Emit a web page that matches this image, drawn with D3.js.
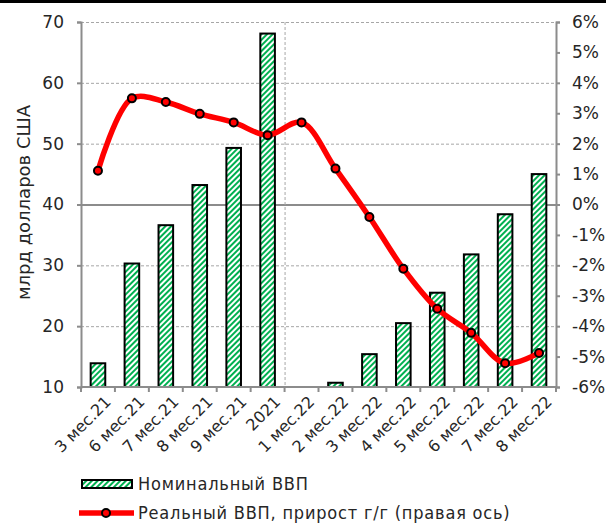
<!DOCTYPE html>
<html>
<head>
<meta charset="utf-8">
<script src="https://cdn.jsdelivr.net/npm/d3@7"></script>
<style>
    body { margin: 0; background: #fff; }
    svg { display: block; font-family: "DejaVu Sans", sans-serif; }
</style>
</head>
<body>
<div id="chart"></div>
<script>
// данные
const categories = ["3 мес.21", "6 мес.21", "7 мес.21", "8 мес.21", "9 мес.21", "2021",
    "1 мес.22", "2 мес.22", "3 мес.22", "4 мес.22", "5 мес.22", "6 мес.22", "7 мес.22", "8 мес.22"];
const nominalGdp = [13.9, 30.3, 36.6, 43.2, 49.3, 68.1, null, 10.7, 15.4, 20.5, 25.5, 31.8, 38.4, 45.0];
const realGrowth = [1.11, 3.49, 3.37, 2.98, 2.70, 2.28, 2.70, 1.18, -0.41, -2.11, -3.43, -4.22, -5.22, -4.88];
const leftTicks = [10, 20, 30, 40, 50, 60, 70];
const rightTicks = [-6, -5, -4, -3, -2, -1, 0, 1, 2, 3, 4, 5, 6];
const legendLabels = ["Номинальный ВВП", "Реальный ВВП, прирост г/г (правая  ось)"];

const width = 606;
const height = 524;
const marginLeft = 81;
const marginRight = 50;
const marginTop = 22;
const marginBottom = 137;

const axisColor = "#8c8c8c";
const green = "#00b050";

const svg = d3.select("#chart").append("svg")
    .attr("width", width)
    .attr("height", height)
    .attr("viewBox", [0, 0, width, height]);

const defs = svg.append("defs");
const pattern = defs.append("pattern")
    .attr("id", "stripes")
    .attr("patternUnits", "userSpaceOnUse")
    .attr("width", 4)
    .attr("height", 4)
    .attr("patternTransform", "rotate(45)");
pattern.append("rect").attr("width", 4).attr("height", 4).attr("fill", "#fff");
pattern.append("rect").attr("width", 2).attr("height", 4).attr("fill", green);

// рамка сверху
svg.append("rect")
    .attr("x", 0).attr("y", 0)
    .attr("width", width).attr("height", 3)
    .attr("fill", "#000");

const x = d3.scaleBand()
    .domain(categories)
    .range([marginLeft, width - marginRight])
    .paddingInner(0.57)
    .paddingOuter(0.285);

const xOuter = d3.scaleBand()
    .domain(categories)
    .range([marginLeft, width - marginRight]);

const y = d3.scaleLinear()
    .domain([10, 70])
    .range([height - marginBottom, marginTop]);

const y2 = d3.scaleLinear()
    .domain([-6, 6])
    .range([height - marginBottom, marginTop]);

// сетка
svg.append("g")
    .selectAll("line")
    .data(leftTicks.filter(d => d !== 10))
    .join("line")
    .attr("x1", marginLeft)
    .attr("x2", width - marginRight)
    .attr("y1", d => y(d) + 0.5)
    .attr("y2", d => y(d) + 0.5)
    .attr("stroke", d => d === 40 ? axisColor : "#a6a6a6")
    .attr("stroke-width", d => d === 40 ? 2 : 1)
    .attr("stroke-dasharray", d => d === 40 ? null : "3,2");

// разделитель 2021 / 2022
const sepX = xOuter("1 мес.22");
svg.append("line")
    .attr("x1", sepX + 0.5).attr("x2", sepX + 0.5)
    .attr("y1", marginTop).attr("y2", height - marginBottom)
    .attr("stroke", "#a6a6a6")
    .attr("stroke-dasharray", "3,2");

// столбцы
svg.append("g")
    .selectAll("rect")
    .data(categories.map((c, i) => ({ c, v: nominalGdp[i] })).filter(d => d.v !== null))
    .join("rect")
    .attr("x", d => x(d.c))
    .attr("y", d => y(d.v))
    .attr("width", x.bandwidth())
    .attr("height", d => y(10) - y(d.v))
    .attr("fill", "url(#stripes)")
    .attr("stroke", "#000")
    .attr("stroke-width", 2);

// оси
svg.append("g")
    .attr("transform", `translate(${marginLeft},0)`)
    .call(d3.axisLeft(y).tickValues(leftTicks).tickSize(4).tickPadding(13))
    .call(g => g.select(".domain").attr("stroke", axisColor).attr("stroke-width", 2))
    .call(g => g.selectAll(".tick line").attr("stroke", axisColor).attr("stroke-width", 2))
    .call(g => g.selectAll(".tick text")
        .attr("font-size", "17px")
        .attr("font-family", "DejaVu Sans")
        .attr("fill", "#262626"));

svg.append("g")
    .attr("transform", `translate(${width - marginRight},0)`)
    .call(d3.axisRight(y2).tickValues(rightTicks).tickSize(4).tickPadding(12)
        .tickFormat(d => d + "%"))
    .call(g => g.select(".domain").attr("stroke", axisColor).attr("stroke-width", 2))
    .call(g => g.selectAll(".tick line").attr("stroke", axisColor).attr("stroke-width", 2))
    .call(g => g.selectAll(".tick text")
        .attr("font-size", "17px")
        .attr("font-family", "DejaVu Sans")
        .attr("fill", "#262626"));

const xAxis = svg.append("g")
    .attr("transform", `translate(0,${height - marginBottom})`);
xAxis.append("line")
    .attr("x1", marginLeft).attr("x2", width - marginRight)
    .attr("stroke", axisColor).attr("stroke-width", 2);
xAxis.selectAll(".tk")
    .data(categories.concat(["end"]))
    .join("line")
    .attr("class", "tk")
    .attr("x1", (d, i) => marginLeft + i * xOuter.step())
    .attr("x2", (d, i) => marginLeft + i * xOuter.step())
    .attr("y1", 0).attr("y2", 5)
    .attr("stroke", axisColor).attr("stroke-width", 2);
xAxis.selectAll("text")
    .data(categories)
    .join("text")
    .attr("transform", d => `translate(${xOuter(d) + xOuter.bandwidth() / 2 + 6},8) rotate(-45)`)
    .attr("text-anchor", "end")
    .attr("dy", "0.7em")
    .attr("font-size", "16px")
    .attr("fill", "#262626")
    .text(d => d);

// подпись оси
svg.append("text")
    .attr("transform", `translate(30,${(marginTop + height - marginBottom) / 2 - 2}) rotate(-90)`)
    .attr("text-anchor", "middle")
    .attr("font-size", "18px")
    .attr("fill", "#262626")
    .text("млрд долларов США");

// линия реального ВВП
const pts = categories.map((c, i) => ({ c, v: realGrowth[i] }));
const line = d3.line()
    .x(d => xOuter(d.c) + xOuter.bandwidth() / 2)
    .y(d => y2(d.v))
    .curve(d3.curveCatmullRom.alpha(0.5));

svg.append("path")
    .datum(pts)
    .attr("fill", "none")
    .attr("stroke", "#ff0000")
    .attr("stroke-width", 5.5)
    .attr("stroke-linejoin", "round")
    .attr("d", line);

svg.append("g")
    .selectAll("circle")
    .data(pts)
    .join("circle")
    .attr("cx", d => xOuter(d.c) + xOuter.bandwidth() / 2)
    .attr("cy", d => y2(d.v))
    .attr("r", 4)
    .attr("fill", "#ff0000")
    .attr("stroke", "#000")
    .attr("stroke-width", 2);

// легенда
const legend = svg.append("g").attr("font-family", "DejaVu Sans Condensed, DejaVu Sans")
    .attr("font-size", "18px").attr("fill", "#262626")
    .attr("letter-spacing", "0.8px")
    .style("white-space", "pre");

legend.append("rect")
    .attr("x", 82).attr("y", 480)
    .attr("width", 50).attr("height", 8)
    .attr("fill", "url(#stripes)")
    .attr("stroke", "#000")
    .attr("stroke-width", 2);
legend.append("text")
    .attr("x", 138).attr("y", 490)
    .text(legendLabels[0]);

legend.append("line")
    .attr("x1", 79).attr("x2", 134)
    .attr("y1", 513).attr("y2", 513)
    .attr("stroke", "#ff0000")
    .attr("stroke-width", 5.5);
legend.append("circle")
    .attr("cx", 106).attr("cy", 513)
    .attr("r", 4)
    .attr("fill", "#ff0000")
    .attr("stroke", "#000")
    .attr("stroke-width", 2);
legend.append("text")
    .attr("x", 138).attr("y", 519)
    .text(legendLabels[1]);
</script>
</body>
</html>
